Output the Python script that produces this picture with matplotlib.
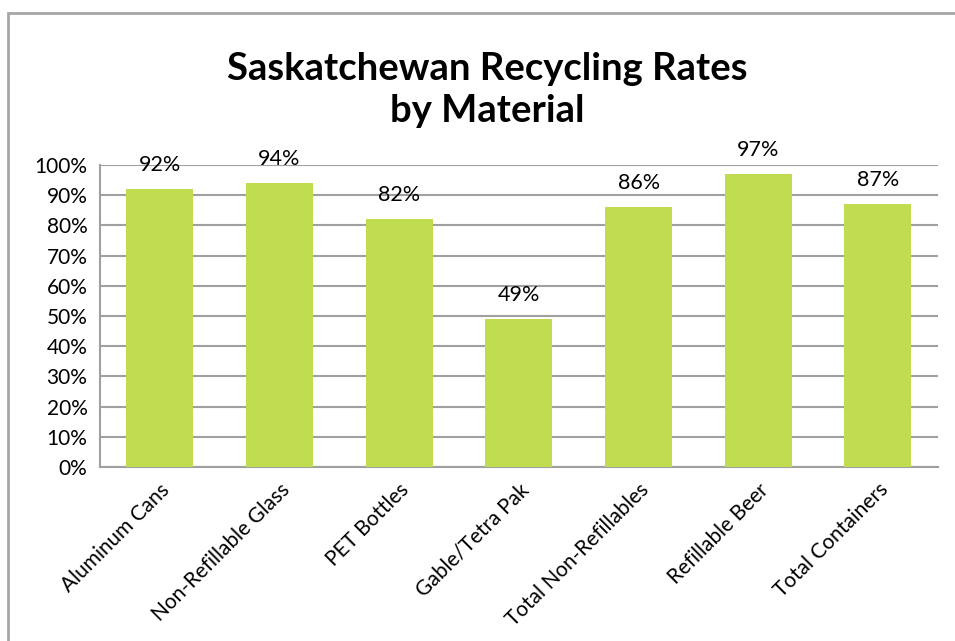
import matplotlib.pyplot as plt
from matplotlib.patches import Rectangle

categories = ['Aluminum Cans', 'Non-Refillable Glass', 'PET Bottles', 'Gable/Tetra Pak',
              'Total Non-Refillables', 'Refillable Beer', 'Total Containers']
rates = [92, 94, 82, 49, 86, 97, 87]
y_ticks = [0, 10, 20, 30, 40, 50, 60, 70, 80, 90, 100]

plt.rcParams['font.family'] = ['Lato', 'DejaVu Sans']

fig = plt.figure(figsize=(9.55, 6.41), dpi=100)
ax = fig.add_axes([0.1047, 0.2714, 0.8773, 0.4712])

# grey frame round the chart, cut off on the right and bottom
fig.patches.append(Rectangle((8 / 955, -0.1), 1.2, 1 - 13 / 641 + 0.1,
                             transform=fig.transFigure, fill=False,
                             edgecolor='#a6a6a6', linewidth=2))

x = range(len(categories))
ax.bar(x, rates, width=0.56, color='#c0dc50', zorder=3)

for i, v in zip(x, rates):
    ax.annotate(f'{v}%', (i, v), xytext=(0, 10), textcoords='offset points',
                ha='center', va='bottom', fontsize=15.5)

ax.set_xlim(-0.5, len(categories) - 0.5)
ax.set_ylim(0, 100)
ax.set_yticks(y_ticks)
ax.set_yticklabels([f'{t}%' for t in y_ticks], fontsize=15)
ax.set_xticks(list(x))
ax.set_xticklabels(categories, rotation=45, ha='right', va='top',
                   rotation_mode='anchor', fontsize=15)
ax.tick_params(length=0, pad=9)

ax.grid(axis='y', color='#a0a0a0', linewidth=1.5, zorder=0)
for side in ['top', 'right']:
    ax.spines[side].set_visible(False)
for side in ['left', 'bottom']:
    ax.spines[side].set_color('#a0a0a0')
    ax.spines[side].set_linewidth(1.5)

fig.text(0.51, 0.86, 'Saskatchewan Recycling Rates\nby Material', ha='center',
         va='center', fontsize=27.5, fontweight='bold', linespacing=1.3)

plt.savefig('out.png', dpi=100)
plt.close()
